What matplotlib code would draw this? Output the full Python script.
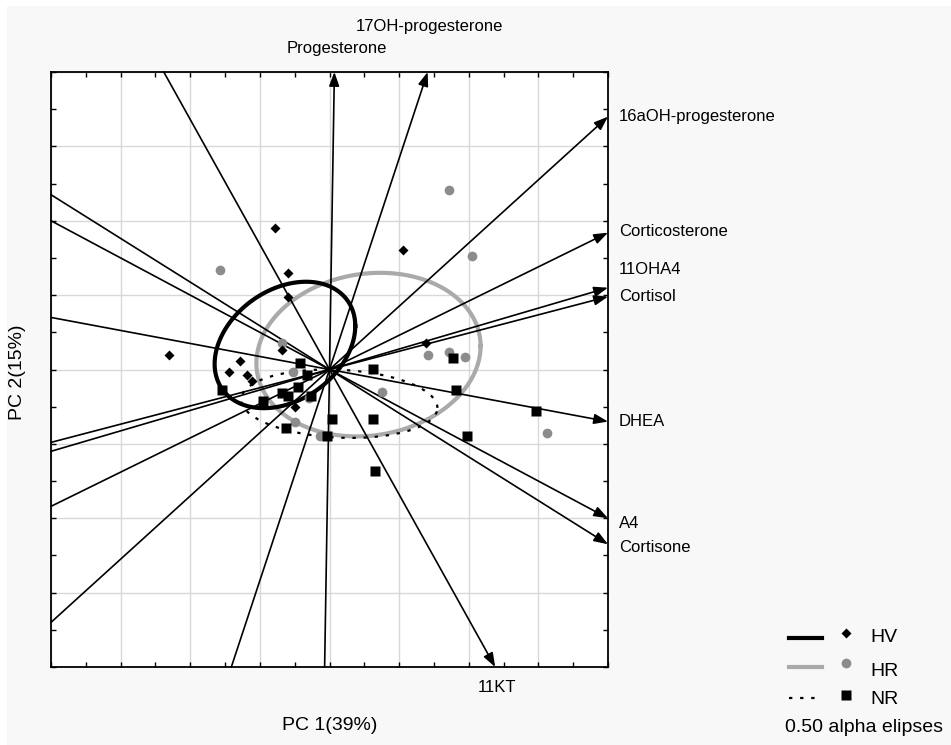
import numpy as np
import matplotlib.pyplot as plt
from matplotlib.lines import Line2D
from matplotlib.patches import Rectangle

plt.rcParams['font.family'] = ['Liberation Sans', 'DejaVu Sans']

# variable loadings (arrow tips) on PC1 / PC2
variables = ['Progesterone', '17OH-progesterone', '16aOH-progesterone', 'Corticosterone',
             '11OHA4', 'Cortisol', 'DHEA', 'A4', 'Cortisone', '11KT']
load_pc1 = [0.07, 1.41, 4.0, 4.0, 4.0, 4.0, 4.0, 4.0, 4.0, 2.38]
load_pc2 = [4.0, 4.0, 3.40, 1.84, 1.10, 0.98, -0.70, -2.0, -2.35, -4.0]

# sample scores
hv_pc1 = [-2.31, -0.78, -0.60, -0.59, 1.06, -1.28, -1.44, -1.19, -1.11, -0.68, -0.50, 1.39]
hv_pc2 = [0.20, 1.90, 1.30, 0.97, 1.61, 0.12, -0.04, -0.07, -0.15, 0.26, -0.50, 0.35]

hr_pc1 = [-1.57, 2.04, 1.71, -0.68, -0.53, -0.29, -0.14, 0.75, 1.41, 1.72, 1.94, 3.12, -0.49]
hr_pc2 = [1.34, 1.53, 2.42, 0.36, -0.03, -0.38, -0.89, -0.30, 0.20, 0.23, 0.17, -0.86, -0.71]

nr_pc1 = [-0.43, -0.33, -0.45, -0.68, -0.60, -0.96, -0.26, -1.54, 0.03, -0.63, -0.04,
          0.62, 1.77, 1.81, 0.62, 1.98, 2.96, 0.65]
nr_pc2 = [0.09, -0.07, -0.23, -0.32, -0.36, -0.42, -0.36, -0.27, -0.66, -0.79, -0.90,
          0.01, 0.16, -0.28, -0.66, -0.90, -0.56, -1.37]

# 0.50 alpha ellipses: centre x, centre y, half width, half height, phase (deg)
hv_ell = [-0.64, 0.33, 1.01, 0.85, 72.5]
hr_ell = [0.56, 0.20, 1.61, 1.10, 84.0]
nr_ell = [0.14, -0.46, 1.41, 0.46, 97.0]

W, H = 951, 745


def P(x, y):
    # pixel -> figure fraction
    return x / W, 1 - y / H


def ellipse(cx, cy, a, b, ph):
    t = np.linspace(0, 2 * np.pi, 300)
    return cx + a * np.cos(t), cy + b * np.cos(t - np.radians(ph))


fig = plt.figure(figsize=(9.51, 7.45), dpi=100, facecolor='white')
fig.add_artist(Rectangle(P(7, 745), 1, 1 - 6 / H, transform=fig.transFigure,
                         facecolor='#f8f8f8', edgecolor='none', zorder=-10))

ax = fig.add_axes([51 / W, 1 - 667 / H, 557 / W, 595 / H])
ax.set_xlim(-4, 4)
ax.set_ylim(-4, 4)
ax.set_xticks(np.arange(-4, 5, 1))
ax.set_yticks(np.arange(-4, 5, 1))
ax.set_xticks(np.arange(-3.5, 4, 1), minor=True)
ax.set_yticks(np.arange(-3.5, 4, 1), minor=True)
ax.tick_params(which='both', direction='in', top=True, right=True, length=3.5,
               width=1, labelbottom=False, labelleft=False)
ax.grid(True, which='major', color='#d8d8d8', lw=1)
ax.set_axisbelow(True)
for s in ax.spines.values():
    s.set_linewidth(1.3)

# ellipses
x, y = ellipse(*hr_ell)
ax.plot(x, y, color='#aaaaaa', lw=3, zorder=2)
x, y = ellipse(*hv_ell)
ax.plot(x, y, color='black', lw=3, zorder=2)
x, y = ellipse(*nr_ell)
ax.plot(x, y, color='black', lw=1.6, ls=(0, (1.5, 3.5)), zorder=2)

# loading lines with arrows
for name, a, b in zip(variables, load_pc1, load_pc2):
    ax.annotate('', xy=(a, b), xytext=(-a, -b),
                arrowprops=dict(arrowstyle='-|>,head_length=0.6,head_width=0.22',
                                color='black', lw=1.2, shrinkA=0, shrinkB=0,
                                mutation_scale=14), zorder=3)

ax.plot(hr_pc1, hr_pc2, 'o', color='#8c8c8c', ms=7, mec='none', zorder=4)
ax.plot(nr_pc1, nr_pc2, 's', color='black', ms=7, mec='none', zorder=5)
ax.plot(hv_pc1, hv_pc2, 'D', color='black', ms=5, mec='none', zorder=6)

# variable labels (pixel positions)
label_pos = [(287, 49), (356, 27), (619, 116), (619, 232), (619, 270), (619, 297),
             (619, 422), (619, 523), (619, 547), (478, 688)]
for name, (px, py) in zip(variables, label_pos):
    fig.text(*P(px, py), name, fontsize=12, ha='left', va='center')

fig.text(*P(330, 726), 'PC 1(39%)', fontsize=14, ha='center', va='center')
fig.text(*P(18, 372), 'PC 2(15%)', fontsize=14, ha='center', va='center', rotation=90)

# legend
fig.add_artist(Line2D([789 / W, 822 / W], [1 - 638 / H] * 2, color='black', lw=3,
                      transform=fig.transFigure))
fig.add_artist(Line2D([789 / W, 822 / W], [1 - 667 / H] * 2, color='#aaaaaa', lw=3,
                      transform=fig.transFigure))
fig.add_artist(Line2D([789 / W, 822 / W], [1 - 698 / H] * 2, color='black', lw=1.6,
                      ls=(0, (1.5, 3.5)), transform=fig.transFigure))
fig.add_artist(Line2D([846 / W], [1 - 633 / H], marker='D', ms=5, color='black',
                      mec='none', transform=fig.transFigure))
fig.add_artist(Line2D([846 / W], [1 - 663 / H], marker='o', ms=7, color='#8c8c8c',
                      mec='none', transform=fig.transFigure))
fig.add_artist(Line2D([846 / W], [1 - 695 / H], marker='s', ms=7, color='black',
                      mec='none', transform=fig.transFigure))
for txt, py in zip(['HV', 'HR', 'NR'], [638, 671, 699]):
    fig.text(*P(870, py), txt, fontsize=14, ha='left', va='center')
fig.text(*P(785, 727), '0.50 alpha elipses', fontsize=14, ha='left', va='center')

fig.savefig('out.png', dpi=100)
